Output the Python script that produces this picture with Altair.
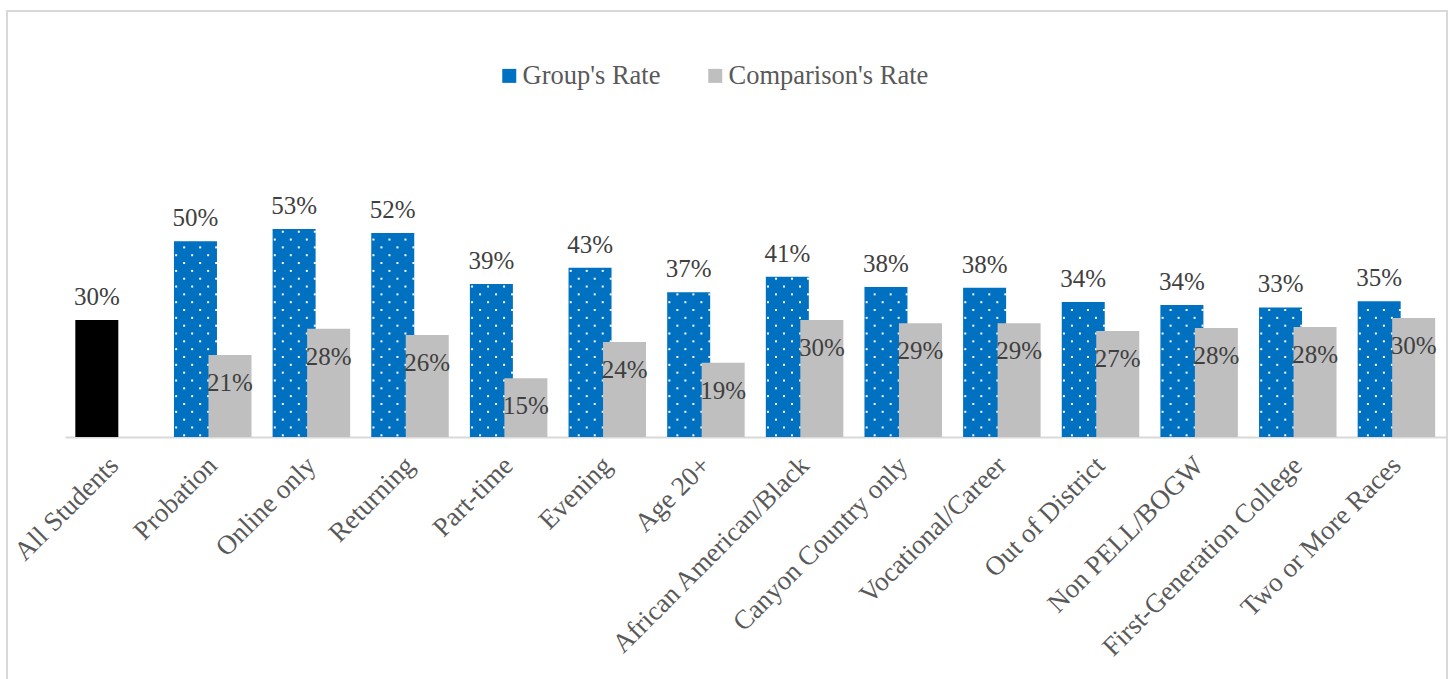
import altair as alt
import pandas as pd

categories = ["All Students", "Probation", "Online only", "Returning", "Part-time",
              "Evening", "Age 20+", "African American/Black", "Canyon Country only",
              "Vocational/Career", "Out of District", "Non PELL/BOGW",
              "First-Generation College", "Two or More Races"]
group_rate = [0.298, 0.499, 0.530, 0.520, 0.390, 0.431, 0.369, 0.408, 0.382,
              0.380, 0.344, 0.336, 0.330, 0.346]
comparison_rate = [None, 0.209, 0.276, 0.260, 0.150, 0.242, 0.189, 0.298, 0.290,
                   0.290, 0.270, 0.278, 0.280, 0.303]
series_names = ["Group's Rate", "Comparison's Rate"]
series_colors = ["#0070C0", "#BFBFBF"]

FONT = "Liberation Serif"
Y_MAX = 0.6
PLOT_W = 1381
PLOT_H = 235.5
LEFT, TOP = 65, 201.5
G_OFF, C_OFF = -17.5, 17.0

grp = pd.DataFrame({"cat": categories, "value": group_rate, "series": series_names[0]})
cmp_ = pd.DataFrame({"cat": categories, "value": comparison_rate, "series": series_names[1]}).dropna()

# white dot pattern inside the blue bars
px_per_unit = PLOT_H / Y_MAX
col_offsets = [-19.3, -11.3, -3.3, 4.7, 12.7, 20.7]
rows = []
for c, v in zip(categories, group_rate):
    if c == "All Students":
        continue
    k = 0
    while True:
        ypx = 1.7 + 7.83 * k
        if ypx > v * px_per_unit - 1.5:
            break
        cols = [1, 3, 5] if k % 2 == 0 else [0, 2, 4]
        for j in cols:
            rows.append({"cat": c, "y": ypx / px_per_unit, "col": j})
        k += 1
dots = pd.DataFrame(rows)

x_enc = alt.X("cat:N", sort=categories,
              scale=alt.Scale(domain=categories, paddingInner=0, paddingOuter=0),
              axis=alt.Axis(title=None, labelAngle=-45, labelAlign="right",
                            labelBaseline="middle", labelFont=FONT, labelFontSize=27,
                            labelColor="#595959", labelPadding=24, ticks=False,
                            domainColor="#D9D9D9", domainWidth=2, labelLimit=0))
y_enc = alt.Y("value:Q", scale=alt.Scale(domain=[0, Y_MAX]), axis=None)

color_scale = alt.Scale(domain=series_names, range=series_colors)
legend = alt.Legend(title=None, orient="none", legendX=431, legendY=-139,
                    direction="horizontal", symbolType="square", symbolSize=196,
                    symbolStrokeWidth=0, labelFont=FONT, labelFontSize=26.5,
                    labelColor="#595959", labelOffset=0, columnPadding=41,
                    labelLimit=0)

group_bars = alt.Chart(grp).mark_bar(width=43, xOffset=G_OFF).encode(
    x=x_enc, y=y_enc,
    color=alt.condition("datum.cat == 'All Students'", alt.value("#000000"),
                        alt.Color("series:N", scale=color_scale, legend=legend)),
)

dot_layers = []
for j, off in enumerate(col_offsets):
    dot_layers.append(
        alt.Chart(dots).transform_filter(f"datum.col == {j}").mark_square(
            size=4, color="white", opacity=1, xOffset=G_OFF + off
        ).encode(x=alt.X("cat:N", sort=categories), y=alt.Y("y:Q"))
    )

comp_bars = alt.Chart(cmp_).mark_bar(width=43, xOffset=C_OFF).encode(
    x=alt.X("cat:N", sort=categories), y=alt.Y("value:Q"),
    color=alt.Color("series:N", scale=color_scale, legend=legend),
)

group_labels = alt.Chart(grp).mark_text(
    xOffset=G_OFF, dy=-15, baseline="alphabetic", font=FONT, fontSize=25, color="#404040"
).encode(x=alt.X("cat:N", sort=categories), y=alt.Y("value:Q"),
         text=alt.Text("value:Q", format=".0%"))

comp_labels = alt.Chart(cmp_).mark_text(
    xOffset=C_OFF, dy=36, baseline="alphabetic", font=FONT, fontSize=25, color="#404040"
).encode(x=alt.X("cat:N", sort=categories), y=alt.Y("value:Q"),
         text=alt.Text("value:Q", format=".0%"))

border = alt.Chart(pd.DataFrame({"a": [0]})).mark_rect(
    fillOpacity=0, stroke="#D9D9D9", strokeWidth=2
).encode(x=alt.value(7 - LEFT), x2=alt.value(1447 - LEFT),
         y=alt.value(11 - TOP), y2=alt.value(720 - TOP))

chart = alt.layer(
    border, group_bars, *dot_layers, comp_bars, group_labels, comp_labels
).properties(
    width=PLOT_W, height=PLOT_H,
    autosize=alt.AutoSizeParams(type="none"),
    padding={"left": LEFT, "top": TOP, "right": 1450 - LEFT - PLOT_W, "bottom": 679 - TOP - PLOT_H},
    background="white",
).configure_view(stroke=None).configure_text(font=FONT)

chart.save("out.html", embed_options={"renderer": "svg", "actions": False})
